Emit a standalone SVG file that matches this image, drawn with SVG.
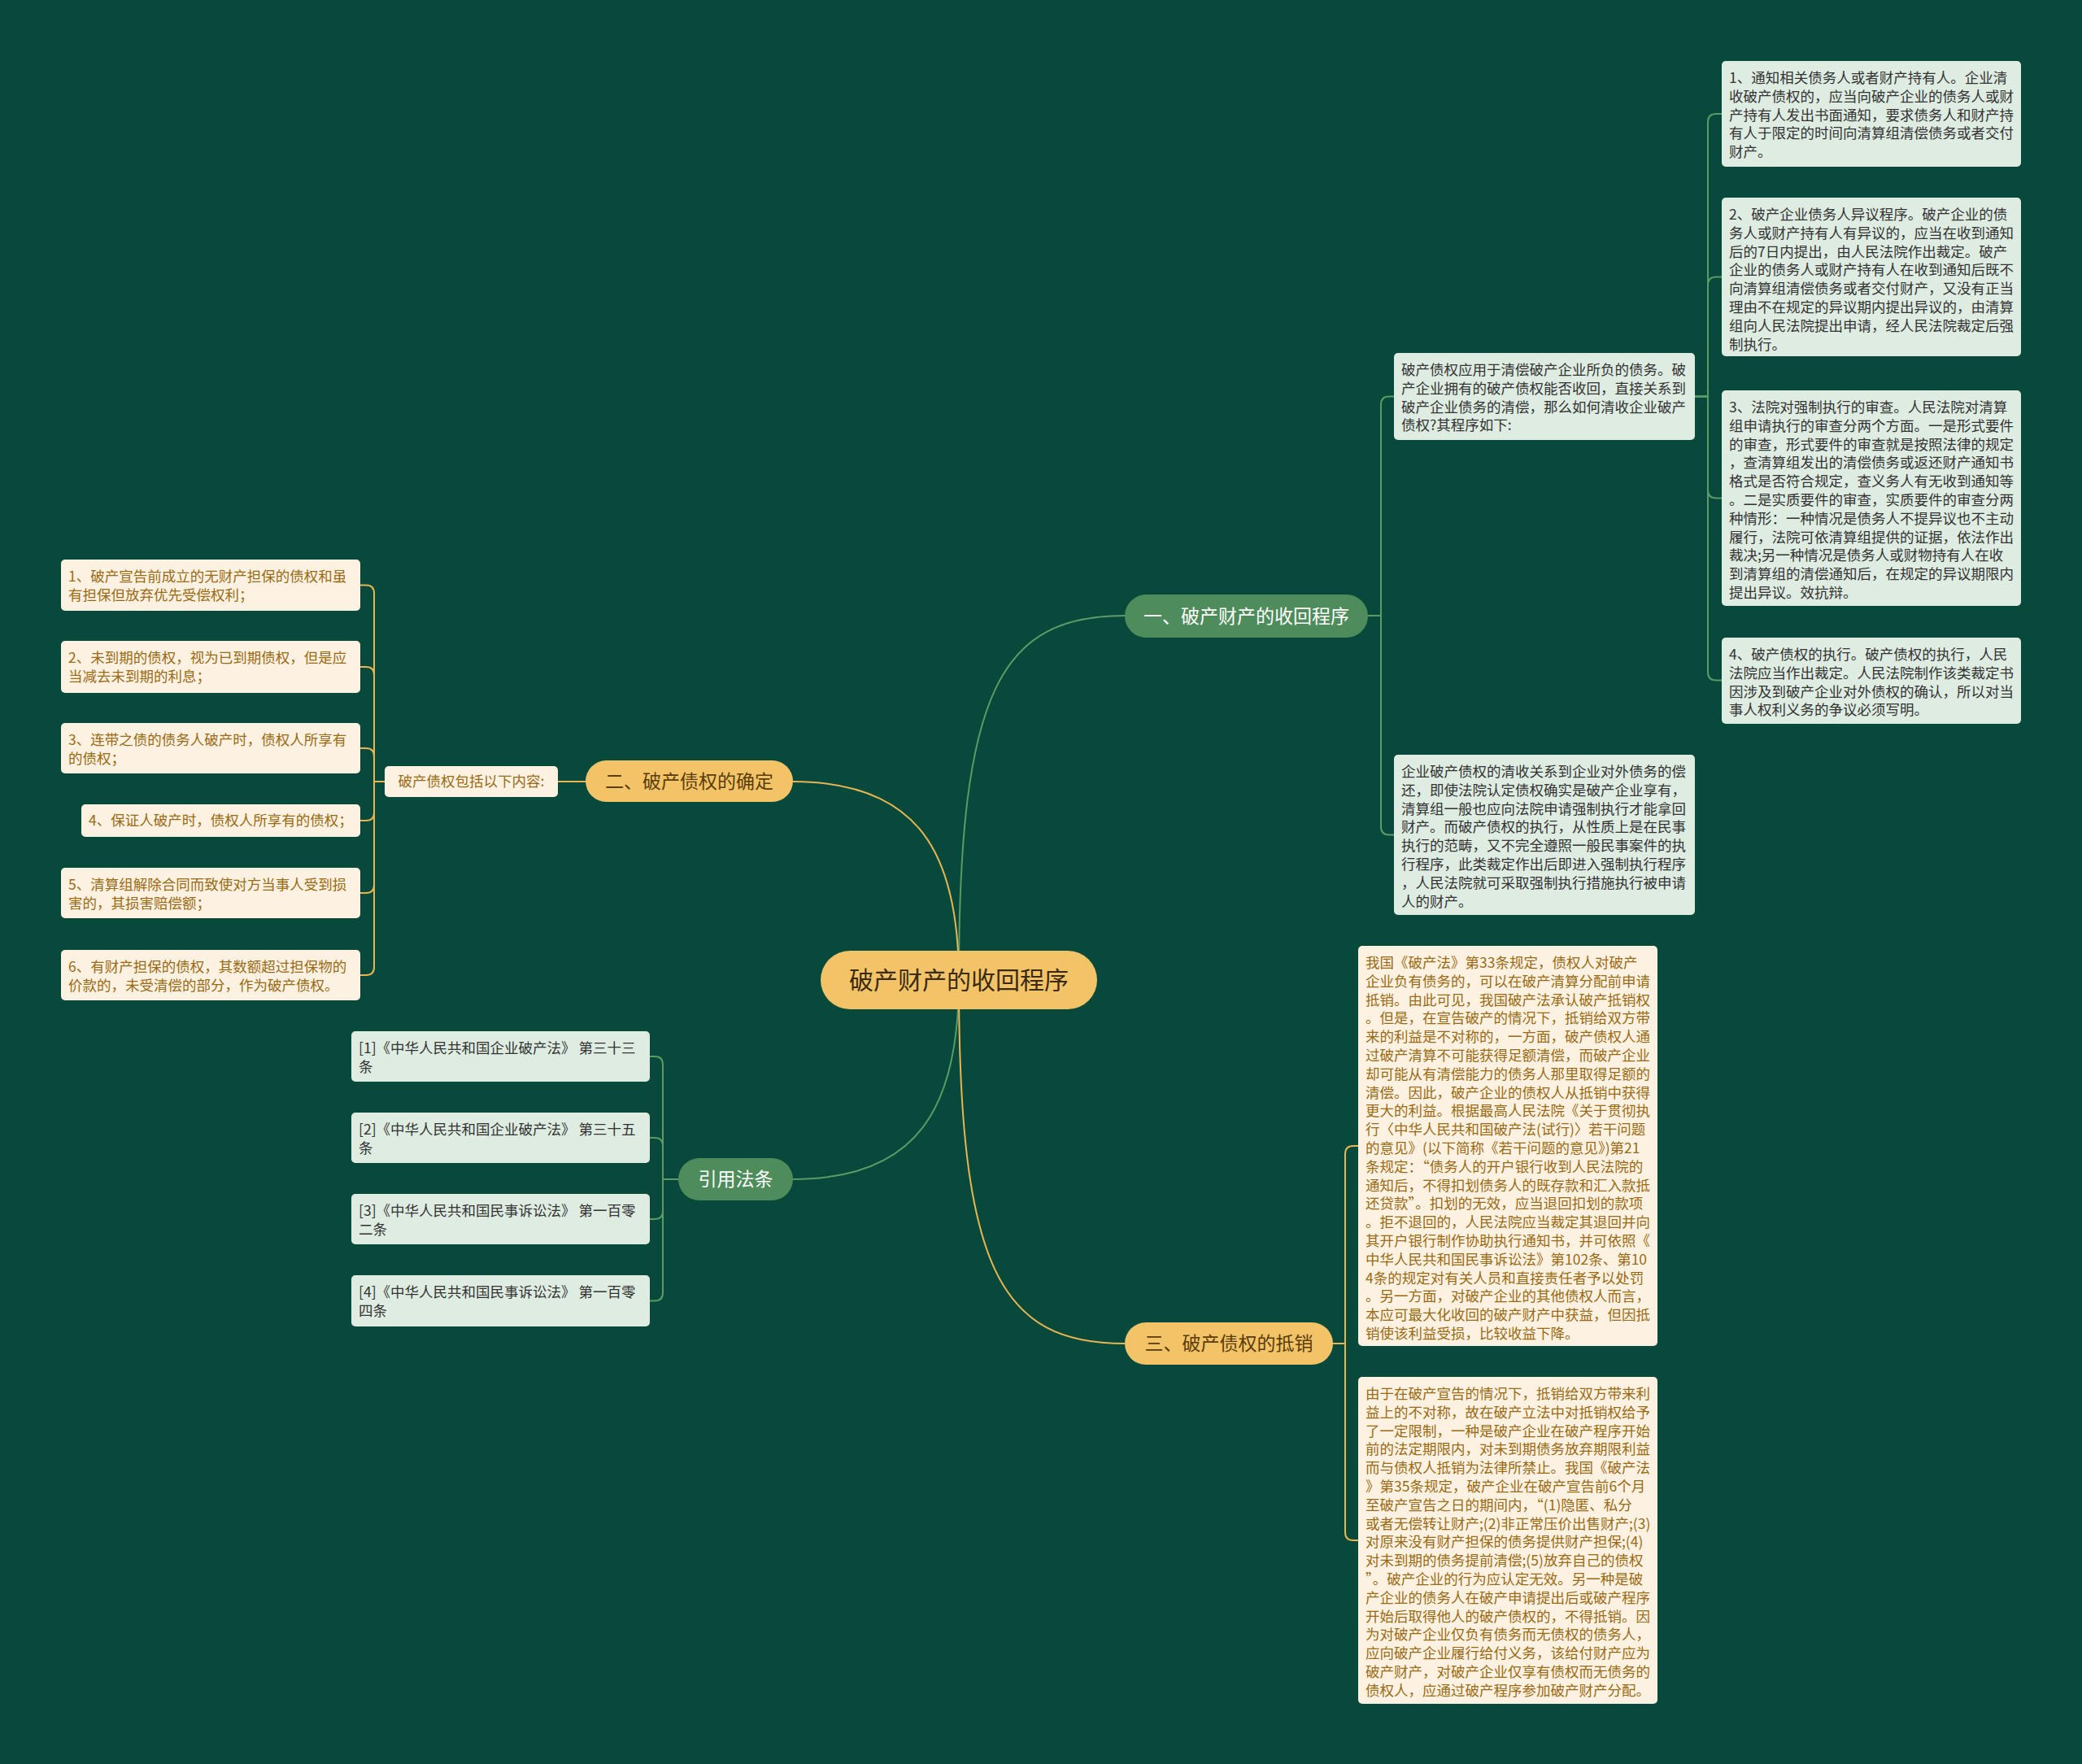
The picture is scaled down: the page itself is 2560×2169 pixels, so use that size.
<svg xmlns="http://www.w3.org/2000/svg" width="2560" height="2169" viewBox="0 0 2560 2169">
<style>
.gb{fill:#deece2}
.ob{fill:#fdf2e1}
.tg{font-family:"Noto Sans CJK SC","Noto Sans",sans-serif;font-size:17.5px;fill:#333}
.to{font-family:"Noto Sans CJK SC","Noto Sans",sans-serif;font-size:17.5px;fill:#9a6a14}
.br{font-family:"Noto Sans CJK SC","Noto Sans",sans-serif;font-size:23px;text-anchor:middle}
.lg{fill:none;stroke:#5c9a68;stroke-width:2}
.lo{fill:none;stroke:#e9b552;stroke-width:2}
</style>
<rect width="2560" height="2169" fill="#07493a"/>
<g id="connectors">
<path class="lg" d="M1179,1205 C1179,850 1230,757 1383,757"/>
<path class="lo" d="M1179,1205 C1179,1050 1130,961 975,961"/>
<path class="lg" d="M1179,1205 C1179,1360 1130,1450 975,1450"/>
<path class="lo" d="M1179,1205 C1179,1560 1230,1652 1383,1652"/>
<path class="lg" d="M1682,757 H1698 V497.5 Q1698,487.5 1708,487.5 H1714"/>
<path class="lg" d="M1682,757 H1698 V1016.5 Q1698,1026.5 1708,1026.5 H1714"/>
<path class="lg" d="M2084,487.5 H2100 V150 Q2100,140 2110,140 H2117"/>
<path class="lg" d="M2084,487.5 H2100 V350.5 Q2100,340.5 2110,340.5 H2117"/>
<path class="lg" d="M2084,487.5 H2100 V602.5 Q2100,612.5 2110,612.5 H2117"/>
<path class="lg" d="M2084,487.5 H2100 V826.5 Q2100,836.5 2110,836.5 H2117"/>
<path class="lo" d="M720,961 H686"/>
<path class="lo" d="M473,961 H460 V729.5 Q460,719.5 450,719.5 H443"/>
<path class="lo" d="M473,961 H460 V830 Q460,820 450,820 H443"/>
<path class="lo" d="M473,961 H460 V930 Q460,920 450,920 H443"/>
<path class="lo" d="M473,961 H460 V999 Q460,1009 450,1009 H443"/>
<path class="lo" d="M473,961 H460 V1088 Q460,1098 450,1098 H443"/>
<path class="lo" d="M473,961 H460 V1189 Q460,1199 450,1199 H443"/>
<path class="lg" d="M834,1450 H815 V1309 Q815,1299 805,1299 H799"/>
<path class="lg" d="M834,1450 H815 V1409 Q815,1399 805,1399 H799"/>
<path class="lg" d="M834,1450 H815 V1489 Q815,1499 805,1499 H799"/>
<path class="lg" d="M834,1450 H815 V1589.5 Q815,1599.5 805,1599.5 H799"/>
<path class="lo" d="M1639,1652 H1654 V1419 Q1654,1409 1664,1409 H1670"/>
<path class="lo" d="M1639,1652 H1654 V1884 Q1654,1894 1664,1894 H1670"/>
</g>
<g id="root">
<rect x="1009" y="1169" width="340" height="72" rx="36" fill="#f3c368"/>
<text x="1179" y="1216" font-family="'Noto Sans CJK SC',sans-serif" font-size="30" text-anchor="middle" fill="#3a2a10">破产财产的收回程序</text>
</g>
<g id="b1">
<rect x="1383" y="731" width="299" height="53" rx="26.5" fill="#4f8c5c"/>
<text class="br" x="1532.5" y="765.5" fill="#ffffff">一、破产财产的收回程序</text>
</g>
<g id="b2">
<rect x="720" y="935" width="255" height="51" rx="25.5" fill="#f3c368"/>
<text class="br" x="847.5" y="968.5" fill="#5a3c08">二、破产债权的确定</text>
</g>
<g id="b3">
<rect x="834" y="1424" width="141" height="52" rx="26" fill="#4f8c5c"/>
<text class="br" x="904.5" y="1458" fill="#ffffff">引用法条</text>
</g>
<g id="b4">
<rect x="1383" y="1626" width="256" height="52" rx="26" fill="#f3c368"/>
<text class="br" x="1511" y="1660" fill="#5a3c08">三、破产债权的抵销</text>
</g>
<g id="n1a">
<rect class="gb" x="1714" y="434" width="370" height="107" rx="5"/>
<text class="tg" x="1723" y="461"><tspan x="1723">破产债权应用于清偿破产企业所负的债务。破</tspan><tspan x="1723" dy="22.8">产企业拥有的破产债权能否收回，直接关系到</tspan><tspan x="1723" dy="22.8">破产企业债务的清偿，那么如何清收企业破产</tspan><tspan x="1723" dy="22.8">债权?其程序如下:</tspan></text>
</g>
<g id="n1b">
<rect class="gb" x="1714" y="928" width="370" height="197" rx="5"/>
<text class="tg" x="1723" y="955"><tspan x="1723">企业破产债权的清收关系到企业对外债务的偿</tspan><tspan x="1723" dy="22.8">还，即使法院认定债权确实是破产企业享有，</tspan><tspan x="1723" dy="22.8">清算组一般也应向法院申请强制执行才能拿回</tspan><tspan x="1723" dy="22.8">财产。而破产债权的执行，从性质上是在民事</tspan><tspan x="1723" dy="22.8">执行的范畴，又不完全遵照一般民事案件的执</tspan><tspan x="1723" dy="22.8">行程序，此类裁定作出后即进入强制执行程序</tspan><tspan x="1723" dy="22.8">，人民法院就可采取强制执行措施执行被申请</tspan><tspan x="1723" dy="22.8">人的财产。</tspan></text>
</g>
<g id="c1">
<rect class="gb" x="2117" y="75" width="368" height="130" rx="5"/>
<text class="tg" x="2126" y="102"><tspan x="2126">1、通知相关债务人或者财产持有人。企业清</tspan><tspan x="2126" dy="22.8">收破产债权的，应当向破产企业的债务人或财</tspan><tspan x="2126" dy="22.8">产持有人发出书面通知，要求债务人和财产持</tspan><tspan x="2126" dy="22.8">有人于限定的时间向清算组清偿债务或者交付</tspan><tspan x="2126" dy="22.8">财产。</tspan></text>
</g>
<g id="c2">
<rect class="gb" x="2117" y="243" width="368" height="195" rx="5"/>
<text class="tg" x="2126" y="270"><tspan x="2126">2、破产企业债务人异议程序。破产企业的债</tspan><tspan x="2126" dy="22.8">务人或财产持有人有异议的，应当在收到通知</tspan><tspan x="2126" dy="22.8">后的7日内提出，由人民法院作出裁定。破产</tspan><tspan x="2126" dy="22.8">企业的债务人或财产持有人在收到通知后既不</tspan><tspan x="2126" dy="22.8">向清算组清偿债务或者交付财产，又没有正当</tspan><tspan x="2126" dy="22.8">理由不在规定的异议期内提出异议的，由清算</tspan><tspan x="2126" dy="22.8">组向人民法院提出申请，经人民法院裁定后强</tspan><tspan x="2126" dy="22.8">制执行。</tspan></text>
</g>
<g id="c3">
<rect class="gb" x="2117" y="480" width="368" height="265" rx="5"/>
<text class="tg" x="2126" y="507"><tspan x="2126">3、法院对强制执行的审查。人民法院对清算</tspan><tspan x="2126" dy="22.8">组申请执行的审查分两个方面。一是形式要件</tspan><tspan x="2126" dy="22.8">的审查，形式要件的审查就是按照法律的规定</tspan><tspan x="2126" dy="22.8">，查清算组发出的清偿债务或返还财产通知书</tspan><tspan x="2126" dy="22.8">格式是否符合规定，查义务人有无收到通知等</tspan><tspan x="2126" dy="22.8">。二是实质要件的审查，实质要件的审查分两</tspan><tspan x="2126" dy="22.8">种情形：一种情况是债务人不提异议也不主动</tspan><tspan x="2126" dy="22.8">履行，法院可依清算组提供的证据，依法作出</tspan><tspan x="2126" dy="22.8">裁决;另一种情况是债务人或财物持有人在收</tspan><tspan x="2126" dy="22.8">到清算组的清偿通知后，在规定的异议期限内</tspan><tspan x="2126" dy="22.8">提出异议。效抗辩。</tspan></text>
</g>
<g id="c4">
<rect class="gb" x="2117" y="784" width="368" height="106" rx="5"/>
<text class="tg" x="2126" y="811"><tspan x="2126">4、破产债权的执行。破产债权的执行，人民</tspan><tspan x="2126" dy="22.8">法院应当作出裁定。人民法院制作该类裁定书</tspan><tspan x="2126" dy="22.8">因涉及到破产企业对外债权的确认，所以对当</tspan><tspan x="2126" dy="22.8">事人权利义务的争议必须写明。</tspan></text>
</g>
<g id="n2">
<rect class="ob" x="473" y="942" width="213" height="38" rx="5"/>
<text class="to" x="579.5" y="967" text-anchor="middle">破产债权包括以下内容:</text>
</g>
<g id="l1">
<rect class="ob" x="75" y="688" width="368" height="63" rx="5"/>
<text class="to" x="84" y="715"><tspan x="84">1、破产宣告前成立的无财产担保的债权和虽</tspan><tspan x="84" dy="22.8">有担保但放弃优先受偿权利；</tspan></text>
</g>
<g id="l2">
<rect class="ob" x="75" y="788" width="368" height="64" rx="5"/>
<text class="to" x="84" y="815"><tspan x="84">2、未到期的债权，视为已到期债权，但是应</tspan><tspan x="84" dy="22.8">当减去未到期的利息；</tspan></text>
</g>
<g id="l3">
<rect class="ob" x="75" y="889" width="368" height="62" rx="5"/>
<text class="to" x="84" y="916"><tspan x="84">3、连带之债的债务人破产时，债权人所享有</tspan><tspan x="84" dy="22.8">的债权；</tspan></text>
</g>
<g id="l4">
<rect class="ob" x="100" y="989" width="343" height="40" rx="5"/>
<text class="to" x="109" y="1015">4、保证人破产时，债权人所享有的债权；</text>
</g>
<g id="l5">
<rect class="ob" x="75" y="1067" width="368" height="62" rx="5"/>
<text class="to" x="84" y="1094"><tspan x="84">5、清算组解除合同而致使对方当事人受到损</tspan><tspan x="84" dy="22.8">害的，其损害赔偿额；</tspan></text>
</g>
<g id="l6">
<rect class="ob" x="75" y="1168" width="368" height="62" rx="5"/>
<text class="to" x="84" y="1195"><tspan x="84">6、有财产担保的债权，其数额超过担保物的</tspan><tspan x="84" dy="22.8">价款的，未受清偿的部分，作为破产债权。</tspan></text>
</g>
<g id="r1">
<rect class="gb" x="432" y="1268" width="367" height="62" rx="5"/>
<text class="tg" x="441" y="1295"><tspan x="441">[1]《中华人民共和国企业破产法》 第三十三</tspan><tspan x="441" dy="22.8">条</tspan></text>
</g>
<g id="r2">
<rect class="gb" x="432" y="1368" width="367" height="62" rx="5"/>
<text class="tg" x="441" y="1395"><tspan x="441">[2]《中华人民共和国企业破产法》 第三十五</tspan><tspan x="441" dy="22.8">条</tspan></text>
</g>
<g id="r3">
<rect class="gb" x="432" y="1468" width="367" height="62" rx="5"/>
<text class="tg" x="441" y="1495"><tspan x="441">[3]《中华人民共和国民事诉讼法》 第一百零</tspan><tspan x="441" dy="22.8">二条</tspan></text>
</g>
<g id="r4">
<rect class="gb" x="432" y="1568" width="367" height="63" rx="5"/>
<text class="tg" x="441" y="1595"><tspan x="441">[4]《中华人民共和国民事诉讼法》 第一百零</tspan><tspan x="441" dy="22.8">四条</tspan></text>
</g>
<g id="d1">
<rect class="ob" x="1670" y="1163" width="368" height="492" rx="5"/>
<text class="to" x="1679" y="1190"><tspan x="1679">我国《破产法》第33条规定，债权人对破产</tspan><tspan x="1679" dy="22.8">企业负有债务的，可以在破产清算分配前申请</tspan><tspan x="1679" dy="22.8">抵销。由此可见，我国破产法承认破产抵销权</tspan><tspan x="1679" dy="22.8">。但是，在宣告破产的情况下，抵销给双方带</tspan><tspan x="1679" dy="22.8">来的利益是不对称的，一方面，破产债权人通</tspan><tspan x="1679" dy="22.8">过破产清算不可能获得足额清偿，而破产企业</tspan><tspan x="1679" dy="22.8">却可能从有清偿能力的债务人那里取得足额的</tspan><tspan x="1679" dy="22.8">清偿。因此，破产企业的债权人从抵销中获得</tspan><tspan x="1679" dy="22.8">更大的利益。根据最高人民法院《关于贯彻执</tspan><tspan x="1679" dy="22.8">行〈中华人民共和国破产法(试行)〉若干问题</tspan><tspan x="1679" dy="22.8">的意见》(以下简称《若干问题的意见》)第21</tspan><tspan x="1679" dy="22.8">条规定：“债务人的开户银行收到人民法院的</tspan><tspan x="1679" dy="22.8">通知后，不得扣划债务人的既存款和汇入款抵</tspan><tspan x="1679" dy="22.8">还贷款”。扣划的无效，应当退回扣划的款项</tspan><tspan x="1679" dy="22.8">。拒不退回的，人民法院应当裁定其退回并向</tspan><tspan x="1679" dy="22.8">其开户银行制作协助执行通知书，并可依照《</tspan><tspan x="1679" dy="22.8">中华人民共和国民事诉讼法》第102条、第10</tspan><tspan x="1679" dy="22.8">4条的规定对有关人员和直接责任者予以处罚</tspan><tspan x="1679" dy="22.8">。另一方面，对破产企业的其他债权人而言，</tspan><tspan x="1679" dy="22.8">本应可最大化收回的破产财产中获益，但因抵</tspan><tspan x="1679" dy="22.8">销使该利益受损，比较收益下降。</tspan></text>
</g>
<g id="d2">
<rect class="ob" x="1670" y="1693" width="368" height="402" rx="5"/>
<text class="to" x="1679" y="1720"><tspan x="1679">由于在破产宣告的情况下，抵销给双方带来利</tspan><tspan x="1679" dy="22.8">益上的不对称，故在破产立法中对抵销权给予</tspan><tspan x="1679" dy="22.8">了一定限制，一种是破产企业在破产程序开始</tspan><tspan x="1679" dy="22.8">前的法定期限内，对未到期债务放弃期限利益</tspan><tspan x="1679" dy="22.8">而与债权人抵销为法律所禁止。我国《破产法</tspan><tspan x="1679" dy="22.8">》第35条规定，破产企业在破产宣告前6个月</tspan><tspan x="1679" dy="22.8">至破产宣告之日的期间内，“(1)隐匿、私分</tspan><tspan x="1679" dy="22.8">或者无偿转让财产;(2)非正常压价出售财产;(3)</tspan><tspan x="1679" dy="22.8">对原来没有财产担保的债务提供财产担保;(4)</tspan><tspan x="1679" dy="22.8">对未到期的债务提前清偿;(5)放弃自己的债权</tspan><tspan x="1679" dy="22.8">”。破产企业的行为应认定无效。另一种是破</tspan><tspan x="1679" dy="22.8">产企业的债务人在破产申请提出后或破产程序</tspan><tspan x="1679" dy="22.8">开始后取得他人的破产债权的，不得抵销。因</tspan><tspan x="1679" dy="22.8">为对破产企业仅负有债务而无债权的债务人，</tspan><tspan x="1679" dy="22.8">应向破产企业履行给付义务，该给付财产应为</tspan><tspan x="1679" dy="22.8">破产财产，对破产企业仅享有债权而无债务的</tspan><tspan x="1679" dy="22.8">债权人，应通过破产程序参加破产财产分配。</tspan></text>
</g>
</svg>
